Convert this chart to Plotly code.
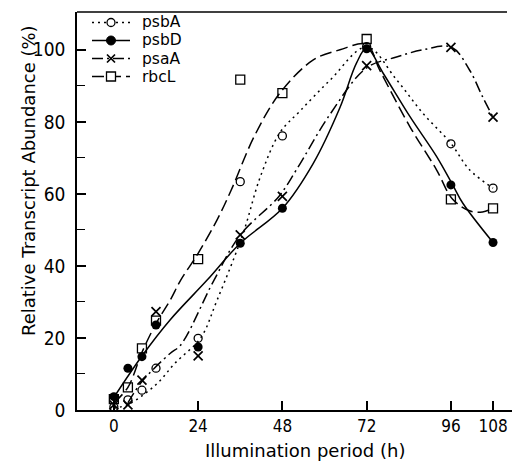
import plotly.graph_objects as go

# ---- data ----
time_h = [0, 4, 8, 12, 24, 36, 48, 72, 96, 108]
psbA = [0.8, 2.8, 5.5, 11.6, 19.9, 63.4, 76.1, 100.9, 73.9, 61.6]
psbD = [3.7, 11.6, 14.8, 23.6, 17.5, 46.3, 56.0, 100.3, 62.5, 46.5]
psaA = [1.4, 1.4, 8.3, 27.3, 15.0, 48.6, 59.3, 95.6, 100.7, 81.3]
rbcL = [3.0, 6.3, 17.1, 24.8, 41.9, 91.7, 88.0, 103.0, 58.5, 56.0]

# hand-drawn fitted curves (knots)
psbA_fit_t = [0, 4, 8.8, 13, 17.4, 24.7, 29.4, 36.8, 41.7, 47.3, 53, 61.7, 72, 80.5, 88, 96, 101.3, 108]
psbA_fit = [0.5, 1.5, 4.5, 8.0, 13, 20, 30.5, 49, 64.7, 77, 83, 91.7, 100.8, 91.7, 82.4, 74, 66.7, 61.6]

psbD_fit_t = [0, 8, 16, 26.5, 36, 48, 56.8, 64.4, 69.1, 72, 76.7, 84.3, 91.9, 96.5, 99.4, 108]
psbD_fit = [3.5, 15, 25, 36, 46.3, 56, 68.5, 84, 96.3, 100.5, 93.5, 81.5, 70.4, 62.5, 57.4, 46.5]

psaA_fit_t = [4, 8, 16, 19, 28.5, 36, 47, 52, 61.5, 72, 80.5, 88, 96.2, 101.3, 105, 108]
psaA_fit = [2, 7.9, 15.7, 18, 36, 48.6, 59.3, 66.7, 82, 95, 98, 100, 100.7, 94.4, 87, 81.3]

rbcL_fit_t = [0, 4, 8, 12, 16.1, 19, 24, 29.4, 33.4, 40, 47.3, 56.8, 64.4, 72, 75.7, 84.3, 91.9, 96.5, 101.3, 105, 108]
rbcL_fit = [2, 6.3, 16, 24, 30.6, 36, 43.5, 52.8, 61, 76, 88, 97.2, 100, 101.5, 94.4, 78.7, 66.7, 58.5, 55.3, 55, 56]

x_ticks = [0, 24, 48, 72, 96, 108]
y_ticks = [0, 20, 40, 60, 80, 100]
y_minor = [10, 30, 50, 70, 90]
series_names = ["psbA", "psbD", "psaA", "rbcL"]

# ---- styles ----
BLACK = "black"
FONT = "DejaVu Sans"
dash = {"psbA": "2px,4px", "psbD": "solid", "psaA": "11px,4px,2px,4px", "rbcL": "12px,5px"}
marker = {
    "psbA": dict(symbol="circle-open", size=8, color=BLACK, line=dict(width=1.3, color=BLACK)),
    "psbD": dict(symbol="circle", size=9, color=BLACK),
    "psaA": dict(symbol="x-thin-open", size=9, color=BLACK, line=dict(width=1.7, color=BLACK)),
    "rbcL": dict(symbol="square-open", size=9, color=BLACK, line=dict(width=1.3, color=BLACK)),
}
values = {"psbA": psbA, "psbD": psbD, "psaA": psaA, "rbcL": rbcL}
fits = {"psbA": (psbA_fit_t, psbA_fit), "psbD": (psbD_fit_t, psbD_fit),
        "psaA": (psaA_fit_t, psaA_fit), "rbcL": (rbcL_fit_t, rbcL_fit)}

fig = go.Figure()
for name in series_names:
    ft, fv = fits[name]
    fig.add_trace(go.Scatter(x=ft, y=fv, mode="lines", name=name, showlegend=False,
                             line=dict(color=BLACK, width=1.5, dash=dash[name], shape="spline", smoothing=1.0),
                             cliponaxis=False, hoverinfo="skip"))
for name in series_names:
    fig.add_trace(go.Scatter(x=time_h, y=values[name], mode="markers", name=name, showlegend=False,
                             marker=marker[name], cliponaxis=False))

# ---- layout geometry (page body has an 8px margin) ----
OFF = 8
W, H = 523 - OFF, 461 - OFF
L, R, T, B = 77 - OFF, 11, 12 - OFF, 51
pw, ph = W - L - R, H - T - B
def px_x(p):
    return (p - OFF - L) / pw
def px_y(p):
    return (H + OFF - B - p) / ph

shapes = []
annotations = []
row_y = [22.5, 40.5, 58.5, 76.5]
for name, yy in zip(series_names, row_y):
    yp = px_y(yy)
    shapes.append(dict(type="line", xref="paper", yref="paper", x0=px_x(92), x1=px_x(130), y0=yp, y1=yp,
                       line=dict(color=BLACK, width=1.5, dash=dash[name])))
    xa = px_x(111)
    common = dict(xref="paper", yref="paper", xsizemode="pixel", ysizemode="pixel", xanchor=xa, yanchor=yp)
    if name == "psbA":
        shapes.append(dict(type="circle", x0=-4, x1=4, y0=-4, y1=4, fillcolor="white",
                           line=dict(color=BLACK, width=1.3), **common))
    elif name == "psbD":
        shapes.append(dict(type="circle", x0=-4.5, x1=4.5, y0=-4.5, y1=4.5, fillcolor=BLACK,
                           line=dict(color=BLACK, width=1), **common))
    elif name == "psaA":
        shapes.append(dict(type="path", path="M-4,-4 L4,4 M-4,4 L4,-4",
                           line=dict(color=BLACK, width=1.7), **common))
    else:
        shapes.append(dict(type="rect", x0=-4.5, x1=4.5, y0=-4.5, y1=4.5, fillcolor="white",
                           line=dict(color=BLACK, width=1.3), **common))
    annotations.append(dict(text=name, xref="paper", yref="paper", x=px_x(141), y=yp,
                            xanchor="left", yanchor="middle", showarrow=False, borderpad=0,
                            font=dict(family=FONT, size=15.5, color=BLACK)))

# top frame line
shapes.append(dict(type="line", xref="paper", yref="paper", x0=0, x1=px_x(507), y0=1, y1=1,
                   line=dict(color=BLACK, width=1.5)))

# axis titles
annotations.append(dict(text="Relative Transcript Abundance (%)", xref="paper", yref="paper",
                        x=px_x(28), y=px_y(181), textangle=-90, xanchor="center", yanchor="middle",
                        showarrow=False, font=dict(family=FONT, size=18, color=BLACK)))
annotations.append(dict(text="Illumination period (h)", xref="paper", yref="paper",
                        x=px_x(305), y=px_y(450), xanchor="center", yanchor="middle",
                        showarrow=False, borderpad=0, font=dict(family=FONT, size=18, color=BLACK)))

fig.update_layout(
    width=W, height=H,
    margin=dict(l=L, r=R, t=T, b=B),
    paper_bgcolor="white", plot_bgcolor="white",
    showlegend=False,
    shapes=shapes, annotations=annotations,
    xaxis=dict(range=[-10.5, 113.4], tickvals=x_ticks, ticktext=[str(v) for v in x_ticks],
               showline=True, linecolor=BLACK, linewidth=1.5, ticks="inside", ticklen=9,
               tickwidth=1.5, tickcolor=BLACK, showgrid=False, zeroline=False,
               tickfont=dict(family="DejaVu Sans Condensed", size=17, color=BLACK)),
    yaxis=dict(range=[0, 110.5], tickvals=y_ticks,
               showline=True, linecolor=BLACK, linewidth=1.5, ticks="inside", ticklen=9,
               tickwidth=1.5, tickcolor=BLACK, showgrid=False, zeroline=False,
               minor=dict(tickvals=y_minor, ticks="inside", ticklen=8, tickwidth=1.3, tickcolor=BLACK),
               tickfont=dict(family="DejaVu Sans Condensed", size=19, color=BLACK),
               ticklabelstandoff=6),
)

fig.write_html("out.html")
